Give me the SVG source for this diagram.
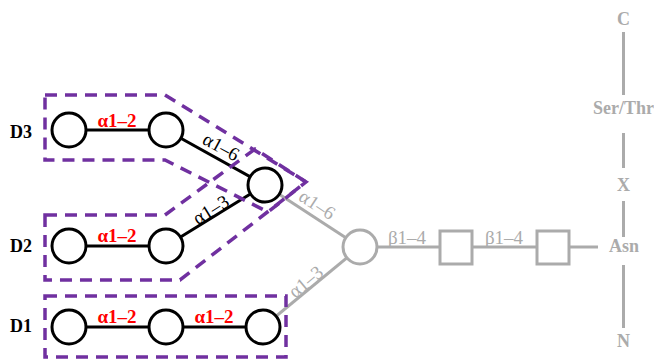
<svg xmlns="http://www.w3.org/2000/svg" width="654" height="362" viewBox="0 0 654 362">
<style>
.bg{fill:#ffffff}
.grp{fill:none;stroke:#7030A0;stroke-width:3.5;stroke-dasharray:12 8}
.bl{stroke:#000;stroke-width:3;fill:none}
.gl{stroke:#ABABAB;stroke-width:3;fill:none}
.bc{fill:#fff;stroke:#000;stroke-width:3}
.gc{fill:#fff;stroke:#ABABAB;stroke-width:3}
.dl{font-family:"Liberation Serif",serif;font-weight:bold;font-size:18px;fill:#000}
.red{font-family:"Liberation Serif",serif;font-weight:bold;font-size:19px;fill:#FF0000;text-anchor:middle}
.blk{font-family:"Liberation Serif",serif;font-size:19px;fill:#000;text-anchor:middle}
.gry{font-family:"Liberation Serif",serif;font-size:19px;fill:#ABABAB;text-anchor:middle}
.pep{font-family:"Liberation Serif",serif;font-weight:bold;font-size:18px;fill:#ABABAB;text-anchor:middle}
</style>
<rect class="bg" x="0" y="0" width="654" height="362"/>
<g id="connectors">
<line class="bl" x1="69" y1="130" x2="166" y2="130"/>
<line class="bl" x1="166" y1="130" x2="265" y2="185"/>
<line class="bl" x1="69" y1="246" x2="166" y2="246"/>
<line class="bl" x1="166" y1="246" x2="265" y2="185"/>
<line class="bl" x1="69" y1="327" x2="166" y2="327"/>
<line class="bl" x1="166" y1="327" x2="263" y2="327"/>
<line class="gl" x1="265" y1="185" x2="360" y2="247"/>
<line class="gl" x1="263" y1="327" x2="360" y2="247"/>
<line class="gl" x1="360" y1="247" x2="440" y2="247"/>
<line class="gl" x1="472" y1="247" x2="537" y2="247"/>
<line class="gl" x1="569" y1="247" x2="598" y2="247"/>
<line class="gl" x1="623.5" y1="32" x2="623.5" y2="95"/>
<line class="gl" x1="623.5" y1="133" x2="623.5" y2="168"/>
<line class="gl" x1="623.5" y1="201" x2="623.5" y2="237"/>
<line class="gl" x1="623.5" y1="265" x2="623.5" y2="328"/>
</g>
<g id="labels">
<text class="red" x="117" y="127">α1–2</text>
<text class="red" x="117" y="242">α1–2</text>
<text class="red" x="117" y="323">α1–2</text>
<text class="red" x="214" y="323">α1–2</text>
<text class="blk" transform="translate(221,147) rotate(29)" x="0" y="6">α1–6</text>
<text class="blk" transform="translate(211,210) rotate(-31.6)" x="0" y="6">α1–3</text>
<text class="gry" transform="translate(317,205) rotate(33)" x="0" y="6">α1–6</text>
<text class="gry" transform="translate(306,282) rotate(-39.5)" x="0" y="6">α1–3</text>
<text class="gry" x="407" y="244">β1–4</text>
<text class="gry" x="504" y="244">β1–4</text>
</g>
<g id="D3">
<text class="dl" x="10" y="138">D3</text>
<circle class="bc" cx="69" cy="130" r="17"/>
<circle class="bc" cx="166" cy="130" r="17"/>
</g>
<g id="D2">
<text class="dl" x="10" y="252">D2</text>
<circle class="bc" cx="69" cy="246" r="17"/>
<circle class="bc" cx="166" cy="246" r="17"/>
</g>
<g id="D1">
<text class="dl" x="10" y="332">D1</text>
<circle class="bc" cx="69" cy="327" r="17"/>
<circle class="bc" cx="166" cy="327" r="17"/>
<circle class="bc" cx="263" cy="327" r="17"/>
</g>
<g id="branch">
<circle class="bc" cx="265" cy="185" r="17"/>
</g>
<g id="core-man">
<circle class="gc" cx="360" cy="247" r="17"/>
</g>
<g id="glcnac2">
<rect class="gc" x="440" y="231" width="32" height="33"/>
</g>
<g id="glcnac1">
<rect class="gc" x="537" y="231" width="32" height="33"/>
</g>
<g id="peptide">
<text class="pep" x="623.5" y="25">C</text>
<text class="pep" x="623.5" y="114">Ser/Thr</text>
<text class="pep" x="623.5" y="191">X</text>
<text class="pep" x="624" y="252">Asn</text>
<text class="pep" x="623.5" y="347">N</text>
</g>
<g id="groups">
<polygon class="grp" points="45,95 165,95 306,182 268,212 165,160 45,160"/>
<polygon class="grp" points="45,215 165,215 255,149 306,182 180,280 45,280"/>
<rect class="grp" x="45" y="296" width="241" height="61"/>
</g>
</svg>
